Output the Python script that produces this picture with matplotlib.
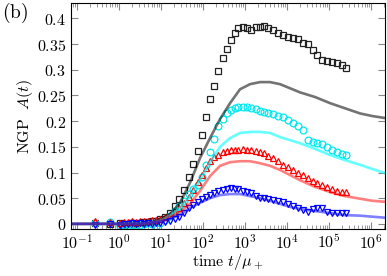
import matplotlib
matplotlib.use("Agg")
import matplotlib.pyplot as plt
import matplotlib.ticker as mticker
import numpy as np

plt.rcParams['mathtext.fontset'] = 'cm'
plt.rcParams['font.family'] = 'serif'
plt.rcParams['font.serif'] = ['DejaVu Serif']

# measured data (markers), shared time points
t_data = [0.27, 0.61, 1.06, 1.32, 1.64, 2.04, 2.54, 3.16, 3.94, 4.90, 6.1, 7.6, 9.5,
          12.4, 16.4, 21.5, 26.8, 35.3, 46.4, 57.8, 76, 94.6, 118, 147, 183, 228,
          299, 373, 464, 578, 681, 896, 1116, 1390, 1828, 2276, 2834, 3530, 4642,
          6105, 8035, 1.06e4, 1.39e4, 1.83e4, 2.40e4, 3.16e4, 4.16e4, 5.18e4,
          6.81e4, 8.96e4, 1.18e5, 1.55e5, 2.04e5, 2.54e5]

A_black = [0.002, 0.0, 0.002, -0.002, 0.0, 0.002, 0.0, 0.002, 0.004, 0.004, 0.006, 0.006,
           0.010, 0.014, 0.021, 0.035, 0.049, 0.066, 0.091, 0.117, 0.142, 0.173, 0.208,
           0.243, 0.268, 0.297, 0.322, 0.340, 0.357, 0.371, 0.381, 0.384, 0.381, 0.377,
           0.383, 0.384, 0.386, 0.381, 0.377, 0.371, 0.367, 0.363, 0.361, 0.359, 0.353,
           0.351, 0.338, 0.328, 0.320, 0.317, 0.315, 0.313, 0.309, 0.303]

A_cyan = [0.001, 0.003, -0.004, -0.002, -0.001, -0.003, -0.002, -0.002, 0.0, 0.001, 0.0,
          -0.004, 0.002, 0.008, 0.015, 0.025, 0.035, 0.045, 0.058, 0.068, 0.075, 0.092,
          0.115, 0.140, 0.165, 0.190, 0.205, 0.215, 0.222, 0.226, 0.227, 0.227, 0.227,
          0.225, 0.223, 0.220, 0.217, 0.215, 0.213, 0.210, 0.208, 0.202, 0.196, 0.190,
          0.183, 0.163, 0.159, 0.157, 0.155, 0.149, 0.144, 0.139, 0.136, 0.134]

A_red = [0.005, 0.003, 0.002, 0.004, 0.003, 0.005, 0.004, 0.006, 0.005, 0.006, 0.007,
         0.008, 0.010, 0.013, 0.017, 0.022, 0.030, 0.040, 0.052, 0.065, 0.082, 0.095,
         0.108, 0.122, 0.130, 0.135, 0.139, 0.141, 0.143, 0.144, 0.144, 0.145, 0.144,
         0.143, 0.141, 0.139, 0.137, 0.133, 0.128, 0.122, 0.115, 0.110, 0.105, 0.100,
         0.095, 0.090, 0.083, 0.079, 0.075, 0.071, 0.067, 0.064, 0.063, 0.062]

A_blue = [-0.002, 0.0, -0.002, 0.0, -0.001, 0.001, 0.0, 0.001, 0.0, 0.001, 0.0, 0.001,
          0.002, 0.004, 0.006, 0.010, 0.014, 0.022, 0.030, 0.036, 0.042, 0.048, 0.053,
          0.057, 0.061, 0.064, 0.066, 0.068, 0.069, 0.068, 0.067, 0.064, 0.062, 0.060,
          0.054, 0.050, 0.051, 0.049, 0.047, 0.045, 0.043, 0.038, 0.034, 0.031, 0.027,
          0.024, 0.029, 0.030, 0.031, 0.024, 0.022, 0.021, 0.021, 0.021]

# theory curves
t_model = [0.072, 3.16, 5.47, 9.47, 16.4, 28.3, 49.0, 84.8, 147, 254, 440, 760, 1316,
           2276, 3940, 6810, 1.18e4, 2.04e4, 4.64e4, 1.06e5, 2.40e5, 5.47e5, 1.06e6, 2.15e6]
M_gray = [0, 0, 0.002, 0.008, 0.019, 0.041, 0.080, 0.128, 0.167, 0.204, 0.235, 0.262,
          0.272, 0.276, 0.276, 0.272, 0.264, 0.256, 0.247, 0.235, 0.225, 0.215, 0.210, 0.206]
M_cyan = [0, 0, 0.002, 0.006, 0.016, 0.031, 0.054, 0.085, 0.120, 0.150, 0.167, 0.177,
          0.179, 0.179, 0.177, 0.169, 0.163, 0.157, 0.146, 0.134, 0.124, 0.115, 0.107, 0.099]
M_red = [0, 0, 0.002, 0.006, 0.014, 0.023, 0.039, 0.064, 0.093, 0.113, 0.120, 0.122,
         0.122, 0.118, 0.113, 0.105, 0.095, 0.085, 0.072, 0.062, 0.054, 0.049, 0.045, 0.043]
M_blue = [0, 0, 0.002, 0.004, 0.010, 0.017, 0.031, 0.041, 0.050, 0.056, 0.058, 0.058,
          0.054, 0.050, 0.045, 0.039, 0.033, 0.029, 0.025, 0.021, 0.017, 0.016, 0.014, 0.012]

yticks = [0, 0.05, 0.1, 0.15, 0.2, 0.25, 0.3, 0.35, 0.4]
xdecades = [-1, 0, 1, 2, 3, 4, 5, 6]

fig = plt.figure(figsize=(3.87, 2.76), dpi=100)
ax = fig.add_axes([71/387, 1-229/276, 314/387, 226/276])

ms = 4.3
ax.plot(t_data, A_black, ls='none', marker='s', ms=ms, mfc='none', mec='#222222', mew=0.9)
ax.plot(t_data, A_cyan, ls='none', marker='o', ms=ms+0.6, mfc='none', mec='#00e8f0', mew=0.9)
ax.plot(t_data, A_red, ls='none', marker='^', ms=ms+0.4, mfc='none', mec='red', mew=0.9)
ax.plot(t_data, A_blue, ls='none', marker='v', ms=ms+0.4, mfc='none', mec='blue', mew=0.9)

lw = 1.9
ax.plot(t_model, M_gray, color='black', alpha=0.55, lw=lw)
ax.plot(t_model, M_cyan, color='cyan', alpha=0.6, lw=lw)
ax.plot(t_model, M_red, color='red', alpha=0.5, lw=lw)
ax.plot(t_model, M_blue, color='blue', alpha=0.5, lw=lw)

ax.set_xscale('log')
ax.set_xlim(0.072, 2.15e6)
ax.set_ylim(-0.01, 0.43)
ax.set_yticks(yticks)
ax.yaxis.set_major_formatter(mticker.FuncFormatter(lambda v, p: '$%g$' % v))
ax.set_xticks([10.0 ** d for d in xdecades])
ax.set_xticklabels(['$10^{%d}$' % d for d in xdecades])
ax.xaxis.set_minor_locator(mticker.LogLocator(base=10, subs=np.arange(2, 10), numticks=20))
ax.xaxis.set_minor_formatter(mticker.NullFormatter())
ax.yaxis.set_minor_locator(mticker.NullLocator())
ax.tick_params(which='both', direction='in', top=True, right=True, labelsize=11.5,
               color='#888888')
ax.tick_params(which='major', length=5)
ax.tick_params(which='minor', length=3)

ax.set_xlabel(r'$\mathrm{time}\ t/\mu_+$', fontsize=11.5, labelpad=0)
ax.set_ylabel(r'$\mathrm{NGP}\ \ A(t)$', fontsize=11.5, labelpad=1)
fig.text(0.004, 0.935, r'$\mathrm{(b)}$', fontsize=14)

fig.savefig('out.png', dpi=100)
